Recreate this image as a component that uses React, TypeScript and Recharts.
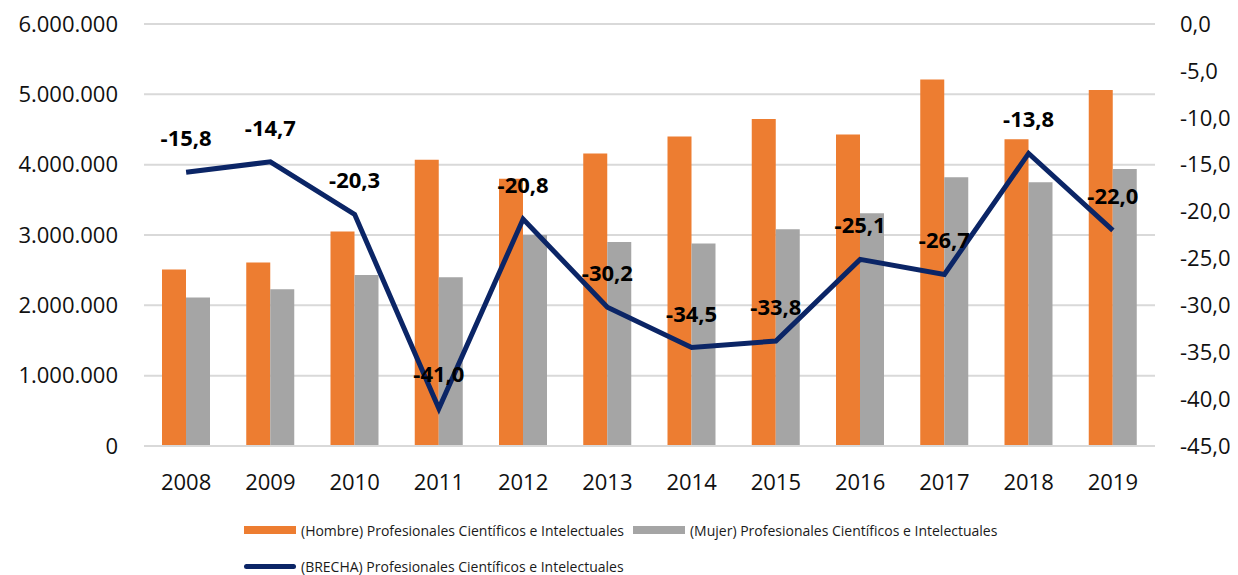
import React from 'react';
import { ComposedChart, Bar, Line, XAxis, YAxis, CartesianGrid, Legend, LabelList } from 'recharts';

const years = ['2008', '2009', '2010', '2011', '2012', '2013', '2014', '2015', '2016', '2017', '2018', '2019'];
const hombre = [2510000, 2610000, 3050000, 4070000, 3800000, 4160000, 4400000, 4650000, 4430000, 5210000, 4360000, 5060000];
const mujer = [2110000, 2230000, 2430000, 2400000, 3000000, 2900000, 2880000, 3080000, 3310000, 3820000, 3750000, 3940000];
const brecha = [-15.8, -14.7, -20.3, -41.0, -20.8, -30.2, -34.5, -33.8, -25.1, -26.7, -13.8, -22.0];
const leftTicks = [0, 1000000, 2000000, 3000000, 4000000, 5000000, 6000000];
const rightTicks = [-45, -40, -35, -30, -25, -20, -15, -10, -5, 0];

const seriesNames = {
  hombre: '(Hombre) Profesionales Científicos e Intelectuales',
  mujer: '(Mujer) Profesionales Científicos e Intelectuales',
  brecha: '(BRECHA) Profesionales Científicos e Intelectuales',
};

const data = years.map((y, i) => ({ year: y, hombre: hombre[i], mujer: mujer[i], brecha: brecha[i] }));

const ORANGE = '#ED7D31';
const GRAY = '#A5A5A5';
const NAVY = '#0B2566';
const GRID = '#D9D9D9';
const FONT = '"Open Sans", sans-serif';
const TEXT = '#111';

const fmtLeft = (v: number) => String(Math.round(v)).replace(/\B(?=(\d{3})+(?!\d))/g, '.');
const fmtRight = (v: number) => Number(v).toFixed(1).replace('.', ',');

const LegendContent = () => {
  const rowStyle: React.CSSProperties = { position: 'absolute', left: 236, height: 18, display: 'flex', alignItems: 'center', whiteSpace: 'nowrap' };
  const txt: React.CSSProperties = { fontFamily: FONT, fontSize: 14, color: '#1a1a1a', marginLeft: 5 };
  return (
    <div style={{ position: 'relative', width: 1222, height: 79 }}>
      <div style={{ ...rowStyle, top: 25 }}>
        <span style={{ display: 'inline-block', width: 52, height: 8, background: ORANGE }} />
        <span style={txt}>{seriesNames.hombre}</span>
        <span style={{ display: 'inline-block', width: 52, height: 8, background: GRAY, marginLeft: 9 }} />
        <span style={txt}>{seriesNames.mujer}</span>
      </div>
      <div style={{ ...rowStyle, top: 61 }}>
        <span style={{ display: 'inline-block', width: 52, height: 5, background: NAVY, borderRadius: 2.5 }} />
        <span style={txt}>{seriesNames.brecha}</span>
      </div>
    </div>
  );
};

export default function App() {
  return (
    <ComposedChart
      width={1222}
      height={567}
      data={data}
      margin={{ top: 16, right: 0, left: 0, bottom: 0 }}
      barGap={0}
      barSize={24}
    >
      <CartesianGrid yAxisId="left" horizontal vertical={false} stroke={GRID} strokeWidth={2} />
      <XAxis
        dataKey="year"
        height={50}
        tickLine={false}
        axisLine={{ stroke: GRID, strokeWidth: 2 }}
        tickMargin={22}
        tick={{ fontFamily: FONT, fontSize: 22, fill: TEXT }}
        interval={0}
      />
      <YAxis
        yAxisId="left"
        orientation="left"
        width={136}
        domain={[0, 6000000]}
        ticks={leftTicks}
        tickFormatter={fmtLeft}
        axisLine={false}
        tickLine={false}
        tickMargin={20}
        tick={{ fontFamily: FONT, fontSize: 22, fill: TEXT }}
        interval={0}
      />
      <YAxis
        yAxisId="right"
        orientation="right"
        width={75}
        domain={[-45, 0]}
        ticks={rightTicks}
        tickFormatter={fmtRight}
        axisLine={false}
        tickLine={false}
        tickMargin={19}
        tick={{ fontFamily: FONT, fontSize: 22, fill: TEXT, textAnchor: 'start' }}
        interval={0}
      />
      <Bar yAxisId="left" dataKey="hombre" name={seriesNames.hombre} fill={ORANGE} isAnimationActive={false} />
      <Bar yAxisId="left" dataKey="mujer" name={seriesNames.mujer} fill={GRAY} isAnimationActive={false} />
      <Line
        yAxisId="right"
        dataKey="brecha"
        name={seriesNames.brecha}
        stroke={NAVY}
        strokeWidth={5}
        dot={false}
        activeDot={false}
        type="linear"
        isAnimationActive={false}
      >
        <LabelList
          dataKey="brecha"
          position="top"
          offset={26}
          formatter={(v: any) => fmtRight(Number(v))}
          style={{ fontFamily: FONT, fontSize: 22, fontWeight: 700, fill: '#000' }}
        />
      </Line>
      <Legend
        verticalAlign="bottom"
        content={<LegendContent />}
        wrapperStyle={{ left: 0, width: 1222 }}
      />
    </ComposedChart>
  );
}
